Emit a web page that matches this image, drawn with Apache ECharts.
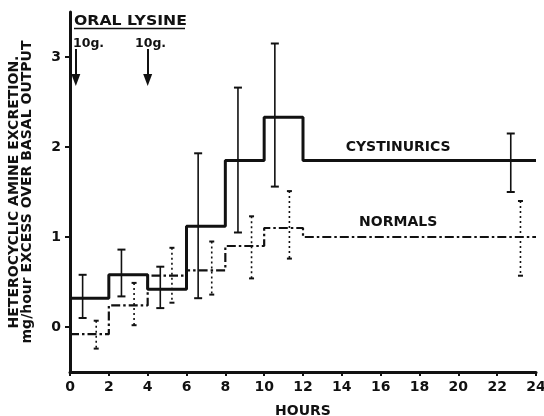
<!DOCTYPE html>
<html>
<head>
<meta charset="utf-8">
<script src="https://cdn.jsdelivr.net/npm/echarts@6/dist/echarts.min.js"></script>
<style>
  html, body { margin: 0; padding: 0; background: #fff; }
  #chart { width: 544px; height: 416px; }
</style>
</head>
<body>
<div id="chart"></div>
<script>
// step levels, one per 2-hour collection period (last one runs to 24 h)
const stepHours = [0, 2, 4, 6, 8, 10, 12, 24];
const cystMean = [0.32, 0.58, 0.42, 1.12, 1.85, 2.33, 1.85, 1.85];
const normMean = [-0.08, 0.24, 0.57, 0.63, 0.9, 1.1, 1.0, 1.0];

// error bars
const cystErrHour = [0.65, 2.65, 4.65, 6.6, 8.65, 10.55, 22.7];
const cystErrHigh = [0.58, 0.86, 0.67, 1.93, 2.66, 3.15, 2.15];
const cystErrLow = [0.1, 0.34, 0.21, 0.32, 1.05, 1.56, 1.5];
const normErrHour = [1.35, 3.3, 5.25, 7.3, 9.35, 11.3, 23.2];
const normErrHigh = [0.07, 0.49, 0.88, 0.95, 1.23, 1.51, 1.4];
const normErrLow = [-0.24, 0.02, 0.27, 0.36, 0.54, 0.76, 0.57];

const xTicks = [0, 2, 4, 6, 8, 10, 12, 14, 16, 18, 20, 22, 24];
const yTicks = [0, 1, 2, 3];

// lysine doses (hour given)
const doseHours = [0.3, 4.0];
const doseLabels = ["10g.", "10g."];

const ink = "#111";
const font = "DejaVu Sans";

const chart = echarts.init(document.getElementById("chart"));

function errorBar(capW, dotted) {
  return function (params, api) {
    const h = api.value(0);
    const hi = api.coord([h, api.value(1)]);
    const lo = api.coord([h, api.value(2)]);
    const capStyle = { stroke: ink, lineWidth: 2 };
    return {
      type: "group",
      children: [
        {
          type: "line",
          shape: { x1: hi[0], y1: hi[1], x2: lo[0], y2: lo[1] },
          style: { stroke: ink, lineWidth: 1.6, lineDash: dotted ? [2, 3] : null },
        },
        { type: "line", shape: { x1: hi[0] - capW, y1: hi[1], x2: hi[0] + capW, y2: hi[1] }, style: capStyle },
        { type: "line", shape: { x1: lo[0] - capW, y1: lo[1], x2: lo[0] + capW, y2: lo[1] }, style: capStyle },
      ],
    };
  };
}

const labelStyle = { show: true, position: "inside", color: ink, fontSize: 14, fontWeight: "bold", fontFamily: font };

chart.setOption({
  backgroundColor: "#fff",
  animation: false,
  textStyle: { fontFamily: font, fontWeight: "bold", color: ink },
  grid: { left: 70, right: 8, top: 12, bottom: 44, outerBoundsMode: "none" },
  xAxis: {
    type: "value",
    min: 0,
    max: 24,
    interval: 2,
    name: "HOURS",
    nameLocation: "middle",
    nameGap: 32,
    nameTextStyle: { fontSize: 14, fontWeight: "bold", color: ink },
    axisLine: { onZero: false, lineStyle: { color: ink, width: 3 } },
    axisTick: { length: 4, lineStyle: { color: ink, width: 2 } },
    axisLabel: { fontSize: 14, fontWeight: "bold", color: ink, margin: 8, customValues: xTicks },
    splitLine: { show: false },
  },
  yAxis: {
    type: "value",
    min: -0.5,
    max: 3.5,
    interval: 0.5,
    name: "HETEROCYCLIC AMINE EXCRETION.\nmg/hour EXCESS OVER BASAL OUTPUT",
    nameLocation: "middle",
    nameRotate: 90,
    nameGap: 36,
    nameTextStyle: { fontSize: 14, fontWeight: "bold", color: ink, lineHeight: 13, align: "center" },
    axisLine: { lineStyle: { color: ink, width: 3 } },
    axisTick: { length: 5, lineStyle: { color: ink, width: 2 }, customValues: yTicks },
    axisLabel: { fontSize: 14, fontWeight: "bold", color: ink, margin: 9, customValues: yTicks },
    splitLine: { show: false },
  },
  series: [
    {
      name: "CYSTINURICS",
      type: "line",
      step: "end",
      symbol: "none",
      data: stepHours.map((h, i) => [h, cystMean[i]]),
      lineStyle: { color: ink, width: 3 },
      markPoint: {
        symbol: "rect",
        symbolSize: 0,
        label: labelStyle,
        data: [{ coord: [16.9, 2.0], value: "CYSTINURICS" }],
      },
      markLine: {
        silent: true,
        symbol: ["none", "triangle"],
        symbolSize: [9, 12],
        label: { show: false },
        lineStyle: { color: ink, width: 2, type: "solid" },
        data: doseHours.map((h) => [{ coord: [h, 3.09] }, { coord: [h, 2.745] }]),
      },
    },
    {
      name: "NORMALS",
      type: "line",
      step: "end",
      symbol: "none",
      data: stepHours.map((h, i) => [h, normMean[i]]),
      lineStyle: { color: ink, width: 2.2, type: [9, 3, 2.5, 3] },
      markPoint: {
        symbol: "rect",
        symbolSize: 0,
        label: labelStyle,
        data: [{ coord: [16.9, 1.16], value: "NORMALS" }],
      },
    },
    {
      type: "custom",
      renderItem: errorBar(4, false),
      data: cystErrHour.map((h, i) => [h, cystErrHigh[i], cystErrLow[i]]),
      encode: { x: 0, y: [1, 2] },
      z: 3,
    },
    {
      type: "custom",
      renderItem: errorBar(2.5, true),
      data: normErrHour.map((h, i) => [h, normErrHigh[i], normErrLow[i]]),
      encode: { x: 0, y: [1, 2] },
      z: 3,
    },
  ],
  graphic: [
    {
      type: "text",
      left: 74,
      top: 14,
      scaleX: 1.12,
      style: { text: "ORAL LYSINE", fontSize: 14, fontWeight: "bold", fontFamily: font, fill: ink },
    },
    {
      type: "line",
      shape: { x1: 74, y1: 28.5, x2: 185, y2: 28.5 },
      style: { stroke: ink, lineWidth: 1.6 },
    },
    {
      type: "text",
      left: 73,
      top: 37,
      style: { text: doseLabels[0], fontSize: 12.5, fontWeight: "bold", fontFamily: font, fill: ink },
    },
    {
      type: "text",
      left: 135,
      top: 37,
      style: { text: doseLabels[1], fontSize: 12.5, fontWeight: "bold", fontFamily: font, fill: ink },
    },
  ],
});
</script>
</body>
</html>
